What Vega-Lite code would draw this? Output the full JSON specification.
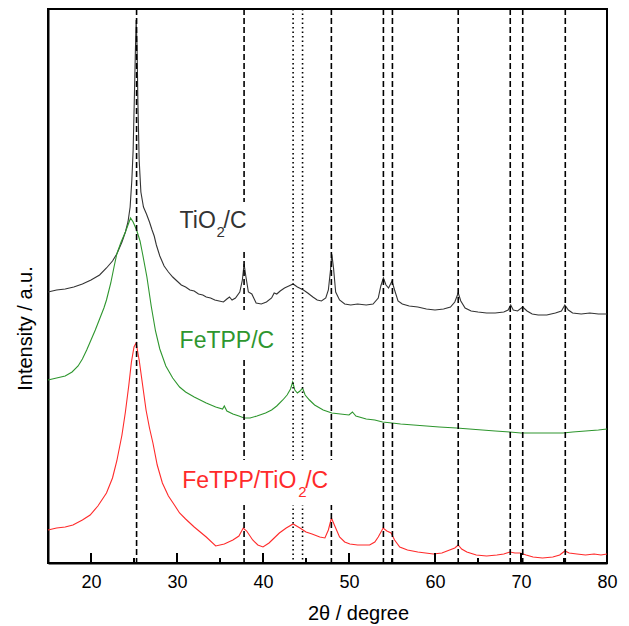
{
  "$schema": "https://vega.github.io/schema/vega-lite/v6.json",
  "width": 559,
  "height": 554,
  "autosize": {"type": "none"},
  "padding": {"left": 48, "top": 9, "right": 22, "bottom": 63},
  "background": "white",
  "config": {
    "view": {"stroke": "black", "strokeWidth": 2},
    "font": "Liberation Sans",
    "axis": {"labelFont": "Liberation Sans", "titleFont": "Liberation Sans", "labelColor": "black", "titleColor": "black", "titleFontWeight": "normal", "domainColor": "black", "domainWidth": 2, "grid": false}
  },
  "datasets": {
    "curves": [
      {"sample": "TiO2/C", "angle": 15, "intensity": 271},
      {"sample": "TiO2/C", "angle": 16, "intensity": 273},
      {"sample": "TiO2/C", "angle": 17, "intensity": 274},
      {"sample": "TiO2/C", "angle": 18, "intensity": 276},
      {"sample": "TiO2/C", "angle": 19, "intensity": 279},
      {"sample": "TiO2/C", "angle": 20, "intensity": 283},
      {"sample": "TiO2/C", "angle": 21, "intensity": 288},
      {"sample": "TiO2/C", "angle": 21.8, "intensity": 295},
      {"sample": "TiO2/C", "angle": 22.5, "intensity": 302},
      {"sample": "TiO2/C", "angle": 23, "intensity": 309},
      {"sample": "TiO2/C", "angle": 23.6, "intensity": 321},
      {"sample": "TiO2/C", "angle": 24, "intensity": 331},
      {"sample": "TiO2/C", "angle": 24.3, "intensity": 341},
      {"sample": "TiO2/C", "angle": 24.55, "intensity": 356},
      {"sample": "TiO2/C", "angle": 24.75, "intensity": 383},
      {"sample": "TiO2/C", "angle": 24.9, "intensity": 413},
      {"sample": "TiO2/C", "angle": 25.05, "intensity": 468},
      {"sample": "TiO2/C", "angle": 25.15, "intensity": 508},
      {"sample": "TiO2/C", "angle": 25.25, "intensity": 543},
      {"sample": "TiO2/C", "angle": 25.35, "intensity": 518},
      {"sample": "TiO2/C", "angle": 25.45, "intensity": 463},
      {"sample": "TiO2/C", "angle": 25.6, "intensity": 403},
      {"sample": "TiO2/C", "angle": 25.8, "intensity": 371},
      {"sample": "TiO2/C", "angle": 26.1, "intensity": 356},
      {"sample": "TiO2/C", "angle": 26.45, "intensity": 349},
      {"sample": "TiO2/C", "angle": 26.8, "intensity": 341},
      {"sample": "TiO2/C", "angle": 27.1, "intensity": 333},
      {"sample": "TiO2/C", "angle": 27.35, "intensity": 327},
      {"sample": "TiO2/C", "angle": 27.6, "intensity": 318},
      {"sample": "TiO2/C", "angle": 28, "intensity": 307},
      {"sample": "TiO2/C", "angle": 28.5, "intensity": 297},
      {"sample": "TiO2/C", "angle": 29, "intensity": 291},
      {"sample": "TiO2/C", "angle": 29.5, "intensity": 286},
      {"sample": "TiO2/C", "angle": 30, "intensity": 282},
      {"sample": "TiO2/C", "angle": 30.5, "intensity": 278},
      {"sample": "TiO2/C", "angle": 31, "intensity": 276},
      {"sample": "TiO2/C", "angle": 31.5, "intensity": 273},
      {"sample": "TiO2/C", "angle": 32, "intensity": 272},
      {"sample": "TiO2/C", "angle": 32.5, "intensity": 269},
      {"sample": "TiO2/C", "angle": 33, "intensity": 268},
      {"sample": "TiO2/C", "angle": 33.4, "intensity": 266},
      {"sample": "TiO2/C", "angle": 33.9, "intensity": 265},
      {"sample": "TiO2/C", "angle": 34.4, "intensity": 263},
      {"sample": "TiO2/C", "angle": 34.9, "intensity": 262},
      {"sample": "TiO2/C", "angle": 35.4, "intensity": 261},
      {"sample": "TiO2/C", "angle": 35.8, "intensity": 264},
      {"sample": "TiO2/C", "angle": 36.1, "intensity": 266},
      {"sample": "TiO2/C", "angle": 36.4, "intensity": 263},
      {"sample": "TiO2/C", "angle": 36.8, "intensity": 265},
      {"sample": "TiO2/C", "angle": 37.3, "intensity": 271},
      {"sample": "TiO2/C", "angle": 37.6, "intensity": 283},
      {"sample": "TiO2/C", "angle": 37.8, "intensity": 299},
      {"sample": "TiO2/C", "angle": 38, "intensity": 287},
      {"sample": "TiO2/C", "angle": 38.3, "intensity": 271},
      {"sample": "TiO2/C", "angle": 38.7, "intensity": 269},
      {"sample": "TiO2/C", "angle": 39.2, "intensity": 260},
      {"sample": "TiO2/C", "angle": 39.8, "intensity": 259},
      {"sample": "TiO2/C", "angle": 40.4, "intensity": 261},
      {"sample": "TiO2/C", "angle": 41, "intensity": 265},
      {"sample": "TiO2/C", "angle": 41.3, "intensity": 270},
      {"sample": "TiO2/C", "angle": 41.6, "intensity": 269},
      {"sample": "TiO2/C", "angle": 42, "intensity": 272},
      {"sample": "TiO2/C", "angle": 42.5, "intensity": 275},
      {"sample": "TiO2/C", "angle": 43, "intensity": 277},
      {"sample": "TiO2/C", "angle": 43.5, "intensity": 279},
      {"sample": "TiO2/C", "angle": 44, "intensity": 276},
      {"sample": "TiO2/C", "angle": 44.7, "intensity": 273},
      {"sample": "TiO2/C", "angle": 45.2, "intensity": 270},
      {"sample": "TiO2/C", "angle": 45.8, "intensity": 266},
      {"sample": "TiO2/C", "angle": 46.3, "intensity": 263},
      {"sample": "TiO2/C", "angle": 46.8, "intensity": 262},
      {"sample": "TiO2/C", "angle": 47.3, "intensity": 265},
      {"sample": "TiO2/C", "angle": 47.6, "intensity": 273},
      {"sample": "TiO2/C", "angle": 47.85, "intensity": 293},
      {"sample": "TiO2/C", "angle": 48, "intensity": 309},
      {"sample": "TiO2/C", "angle": 48.2, "intensity": 295},
      {"sample": "TiO2/C", "angle": 48.45, "intensity": 271},
      {"sample": "TiO2/C", "angle": 48.9, "intensity": 263},
      {"sample": "TiO2/C", "angle": 49.5, "intensity": 259},
      {"sample": "TiO2/C", "angle": 50.2, "intensity": 258},
      {"sample": "TiO2/C", "angle": 51, "intensity": 259},
      {"sample": "TiO2/C", "angle": 52, "intensity": 258},
      {"sample": "TiO2/C", "angle": 52.8, "intensity": 259},
      {"sample": "TiO2/C", "angle": 53.4, "intensity": 265},
      {"sample": "TiO2/C", "angle": 53.7, "intensity": 277},
      {"sample": "TiO2/C", "angle": 54, "intensity": 285},
      {"sample": "TiO2/C", "angle": 54.3, "intensity": 278},
      {"sample": "TiO2/C", "angle": 54.6, "intensity": 275},
      {"sample": "TiO2/C", "angle": 55, "intensity": 282},
      {"sample": "TiO2/C", "angle": 55.3, "intensity": 273},
      {"sample": "TiO2/C", "angle": 55.7, "intensity": 262},
      {"sample": "TiO2/C", "angle": 56.2, "intensity": 259},
      {"sample": "TiO2/C", "angle": 57, "intensity": 257},
      {"sample": "TiO2/C", "angle": 58, "intensity": 256},
      {"sample": "TiO2/C", "angle": 59, "intensity": 254},
      {"sample": "TiO2/C", "angle": 60, "intensity": 253},
      {"sample": "TiO2/C", "angle": 61, "intensity": 254},
      {"sample": "TiO2/C", "angle": 61.8, "intensity": 256},
      {"sample": "TiO2/C", "angle": 62.3, "intensity": 261},
      {"sample": "TiO2/C", "angle": 62.7, "intensity": 270},
      {"sample": "TiO2/C", "angle": 63, "intensity": 262},
      {"sample": "TiO2/C", "angle": 63.5, "intensity": 255},
      {"sample": "TiO2/C", "angle": 64.2, "intensity": 252},
      {"sample": "TiO2/C", "angle": 65, "intensity": 251},
      {"sample": "TiO2/C", "angle": 66, "intensity": 250},
      {"sample": "TiO2/C", "angle": 67, "intensity": 250},
      {"sample": "TiO2/C", "angle": 68, "intensity": 251},
      {"sample": "TiO2/C", "angle": 68.5, "intensity": 253},
      {"sample": "TiO2/C", "angle": 68.8, "intensity": 258},
      {"sample": "TiO2/C", "angle": 69.1, "intensity": 253},
      {"sample": "TiO2/C", "angle": 69.6, "intensity": 252},
      {"sample": "TiO2/C", "angle": 70.2, "intensity": 256},
      {"sample": "TiO2/C", "angle": 70.7, "intensity": 252},
      {"sample": "TiO2/C", "angle": 71.3, "intensity": 249},
      {"sample": "TiO2/C", "angle": 72, "intensity": 248},
      {"sample": "TiO2/C", "angle": 73, "intensity": 248},
      {"sample": "TiO2/C", "angle": 74, "intensity": 250},
      {"sample": "TiO2/C", "angle": 74.7, "intensity": 252},
      {"sample": "TiO2/C", "angle": 75.1, "intensity": 258},
      {"sample": "TiO2/C", "angle": 75.5, "intensity": 253},
      {"sample": "TiO2/C", "angle": 76, "intensity": 250},
      {"sample": "TiO2/C", "angle": 77, "intensity": 249},
      {"sample": "TiO2/C", "angle": 78, "intensity": 250},
      {"sample": "TiO2/C", "angle": 79, "intensity": 249},
      {"sample": "TiO2/C", "angle": 80, "intensity": 249},

      {"sample": "FeTPP/C", "angle": 15, "intensity": 183},
      {"sample": "FeTPP/C", "angle": 16, "intensity": 185},
      {"sample": "FeTPP/C", "angle": 17, "intensity": 187},
      {"sample": "FeTPP/C", "angle": 17.8, "intensity": 191},
      {"sample": "FeTPP/C", "angle": 18.5, "intensity": 197},
      {"sample": "FeTPP/C", "angle": 19, "intensity": 204},
      {"sample": "FeTPP/C", "angle": 19.5, "intensity": 213},
      {"sample": "FeTPP/C", "angle": 20, "intensity": 223},
      {"sample": "FeTPP/C", "angle": 20.5, "intensity": 233},
      {"sample": "FeTPP/C", "angle": 21, "intensity": 244},
      {"sample": "FeTPP/C", "angle": 21.5, "intensity": 255},
      {"sample": "FeTPP/C", "angle": 21.8, "intensity": 263},
      {"sample": "FeTPP/C", "angle": 22.3, "intensity": 280},
      {"sample": "FeTPP/C", "angle": 22.7, "intensity": 297},
      {"sample": "FeTPP/C", "angle": 23, "intensity": 309},
      {"sample": "FeTPP/C", "angle": 23.5, "intensity": 321},
      {"sample": "FeTPP/C", "angle": 24, "intensity": 331},
      {"sample": "FeTPP/C", "angle": 24.3, "intensity": 338},
      {"sample": "FeTPP/C", "angle": 24.6, "intensity": 345},
      {"sample": "FeTPP/C", "angle": 24.9, "intensity": 341},
      {"sample": "FeTPP/C", "angle": 25.3, "intensity": 333},
      {"sample": "FeTPP/C", "angle": 25.7, "intensity": 322},
      {"sample": "FeTPP/C", "angle": 26, "intensity": 309},
      {"sample": "FeTPP/C", "angle": 26.5, "intensity": 286},
      {"sample": "FeTPP/C", "angle": 27, "intensity": 257},
      {"sample": "FeTPP/C", "angle": 27.5, "intensity": 232},
      {"sample": "FeTPP/C", "angle": 28, "intensity": 214},
      {"sample": "FeTPP/C", "angle": 28.7, "intensity": 197},
      {"sample": "FeTPP/C", "angle": 29.5, "intensity": 185},
      {"sample": "FeTPP/C", "angle": 30.3, "intensity": 176},
      {"sample": "FeTPP/C", "angle": 31, "intensity": 171},
      {"sample": "FeTPP/C", "angle": 32, "intensity": 166},
      {"sample": "FeTPP/C", "angle": 33.4, "intensity": 160},
      {"sample": "FeTPP/C", "angle": 34.5, "intensity": 156},
      {"sample": "FeTPP/C", "angle": 35.3, "intensity": 154},
      {"sample": "FeTPP/C", "angle": 35.5, "intensity": 157},
      {"sample": "FeTPP/C", "angle": 35.8, "intensity": 152},
      {"sample": "FeTPP/C", "angle": 36.5, "intensity": 149},
      {"sample": "FeTPP/C", "angle": 37.2, "intensity": 147},
      {"sample": "FeTPP/C", "angle": 37.8, "intensity": 145},
      {"sample": "FeTPP/C", "angle": 38.5, "intensity": 145},
      {"sample": "FeTPP/C", "angle": 39.3, "intensity": 147},
      {"sample": "FeTPP/C", "angle": 40.3, "intensity": 150},
      {"sample": "FeTPP/C", "angle": 41, "intensity": 153},
      {"sample": "FeTPP/C", "angle": 41.6, "intensity": 157},
      {"sample": "FeTPP/C", "angle": 42.3, "intensity": 163},
      {"sample": "FeTPP/C", "angle": 42.8, "intensity": 168},
      {"sample": "FeTPP/C", "angle": 43.2, "intensity": 174},
      {"sample": "FeTPP/C", "angle": 43.45, "intensity": 181},
      {"sample": "FeTPP/C", "angle": 43.7, "intensity": 173},
      {"sample": "FeTPP/C", "angle": 44, "intensity": 170},
      {"sample": "FeTPP/C", "angle": 44.3, "intensity": 172},
      {"sample": "FeTPP/C", "angle": 44.6, "intensity": 175},
      {"sample": "FeTPP/C", "angle": 44.9, "intensity": 168},
      {"sample": "FeTPP/C", "angle": 45.4, "intensity": 163},
      {"sample": "FeTPP/C", "angle": 46, "intensity": 158},
      {"sample": "FeTPP/C", "angle": 47, "intensity": 153},
      {"sample": "FeTPP/C", "angle": 48, "intensity": 150},
      {"sample": "FeTPP/C", "angle": 49, "intensity": 149},
      {"sample": "FeTPP/C", "angle": 50, "intensity": 148},
      {"sample": "FeTPP/C", "angle": 50.4, "intensity": 151},
      {"sample": "FeTPP/C", "angle": 50.8, "intensity": 147},
      {"sample": "FeTPP/C", "angle": 52, "intensity": 144},
      {"sample": "FeTPP/C", "angle": 53, "intensity": 143},
      {"sample": "FeTPP/C", "angle": 53.9, "intensity": 141},
      {"sample": "FeTPP/C", "angle": 55, "intensity": 140},
      {"sample": "FeTPP/C", "angle": 56, "intensity": 139},
      {"sample": "FeTPP/C", "angle": 57.5, "intensity": 138},
      {"sample": "FeTPP/C", "angle": 59, "intensity": 137},
      {"sample": "FeTPP/C", "angle": 60.5, "intensity": 136},
      {"sample": "FeTPP/C", "angle": 62.5, "intensity": 135},
      {"sample": "FeTPP/C", "angle": 64, "intensity": 134},
      {"sample": "FeTPP/C", "angle": 65.5, "intensity": 133},
      {"sample": "FeTPP/C", "angle": 67, "intensity": 132},
      {"sample": "FeTPP/C", "angle": 68.7, "intensity": 131},
      {"sample": "FeTPP/C", "angle": 70, "intensity": 130},
      {"sample": "FeTPP/C", "angle": 71.5, "intensity": 130},
      {"sample": "FeTPP/C", "angle": 73, "intensity": 130},
      {"sample": "FeTPP/C", "angle": 74.9, "intensity": 130},
      {"sample": "FeTPP/C", "angle": 76, "intensity": 131},
      {"sample": "FeTPP/C", "angle": 77.5, "intensity": 132},
      {"sample": "FeTPP/C", "angle": 79, "intensity": 133},
      {"sample": "FeTPP/C", "angle": 80, "intensity": 134},

      {"sample": "FeTPP/TiO2/C", "angle": 15, "intensity": 33},
      {"sample": "FeTPP/TiO2/C", "angle": 16, "intensity": 35},
      {"sample": "FeTPP/TiO2/C", "angle": 17, "intensity": 36},
      {"sample": "FeTPP/TiO2/C", "angle": 17.9, "intensity": 38},
      {"sample": "FeTPP/TiO2/C", "angle": 19, "intensity": 43},
      {"sample": "FeTPP/TiO2/C", "angle": 19.9, "intensity": 48},
      {"sample": "FeTPP/TiO2/C", "angle": 20.8, "intensity": 57},
      {"sample": "FeTPP/TiO2/C", "angle": 21.8, "intensity": 70},
      {"sample": "FeTPP/TiO2/C", "angle": 22.5, "intensity": 85},
      {"sample": "FeTPP/TiO2/C", "angle": 23, "intensity": 102},
      {"sample": "FeTPP/TiO2/C", "angle": 23.6, "intensity": 128},
      {"sample": "FeTPP/TiO2/C", "angle": 24, "intensity": 151},
      {"sample": "FeTPP/TiO2/C", "angle": 24.4, "intensity": 178},
      {"sample": "FeTPP/TiO2/C", "angle": 24.7, "intensity": 201},
      {"sample": "FeTPP/TiO2/C", "angle": 25, "intensity": 216},
      {"sample": "FeTPP/TiO2/C", "angle": 25.25, "intensity": 220},
      {"sample": "FeTPP/TiO2/C", "angle": 25.6, "intensity": 203},
      {"sample": "FeTPP/TiO2/C", "angle": 26, "intensity": 178},
      {"sample": "FeTPP/TiO2/C", "angle": 26.4, "intensity": 153},
      {"sample": "FeTPP/TiO2/C", "angle": 26.8, "intensity": 135},
      {"sample": "FeTPP/TiO2/C", "angle": 27.2, "intensity": 120},
      {"sample": "FeTPP/TiO2/C", "angle": 27.7, "intensity": 98},
      {"sample": "FeTPP/TiO2/C", "angle": 28.3, "intensity": 80},
      {"sample": "FeTPP/TiO2/C", "angle": 29, "intensity": 67},
      {"sample": "FeTPP/TiO2/C", "angle": 29.7, "intensity": 58},
      {"sample": "FeTPP/TiO2/C", "angle": 30.3, "intensity": 50},
      {"sample": "FeTPP/TiO2/C", "angle": 31, "intensity": 44},
      {"sample": "FeTPP/TiO2/C", "angle": 32, "intensity": 36},
      {"sample": "FeTPP/TiO2/C", "angle": 33.4, "intensity": 26},
      {"sample": "FeTPP/TiO2/C", "angle": 34.5, "intensity": 17},
      {"sample": "FeTPP/TiO2/C", "angle": 35.5, "intensity": 19},
      {"sample": "FeTPP/TiO2/C", "angle": 36.5, "intensity": 23},
      {"sample": "FeTPP/TiO2/C", "angle": 37.2, "intensity": 27},
      {"sample": "FeTPP/TiO2/C", "angle": 37.7, "intensity": 35},
      {"sample": "FeTPP/TiO2/C", "angle": 38.1, "intensity": 32},
      {"sample": "FeTPP/TiO2/C", "angle": 38.8, "intensity": 23},
      {"sample": "FeTPP/TiO2/C", "angle": 39.4, "intensity": 18},
      {"sample": "FeTPP/TiO2/C", "angle": 40, "intensity": 16},
      {"sample": "FeTPP/TiO2/C", "angle": 40.7, "intensity": 20},
      {"sample": "FeTPP/TiO2/C", "angle": 41.3, "intensity": 25},
      {"sample": "FeTPP/TiO2/C", "angle": 41.9, "intensity": 30},
      {"sample": "FeTPP/TiO2/C", "angle": 42.7, "intensity": 35},
      {"sample": "FeTPP/TiO2/C", "angle": 43.5, "intensity": 39},
      {"sample": "FeTPP/TiO2/C", "angle": 44.3, "intensity": 35},
      {"sample": "FeTPP/TiO2/C", "angle": 45, "intensity": 31},
      {"sample": "FeTPP/TiO2/C", "angle": 45.7, "intensity": 29},
      {"sample": "FeTPP/TiO2/C", "angle": 46.6, "intensity": 26},
      {"sample": "FeTPP/TiO2/C", "angle": 47.2, "intensity": 25},
      {"sample": "FeTPP/TiO2/C", "angle": 47.6, "intensity": 33},
      {"sample": "FeTPP/TiO2/C", "angle": 47.96, "intensity": 45},
      {"sample": "FeTPP/TiO2/C", "angle": 48.3, "intensity": 38},
      {"sample": "FeTPP/TiO2/C", "angle": 48.9, "intensity": 26},
      {"sample": "FeTPP/TiO2/C", "angle": 49.5, "intensity": 21},
      {"sample": "FeTPP/TiO2/C", "angle": 50.1, "intensity": 19},
      {"sample": "FeTPP/TiO2/C", "angle": 51, "intensity": 18},
      {"sample": "FeTPP/TiO2/C", "angle": 52.4, "intensity": 18},
      {"sample": "FeTPP/TiO2/C", "angle": 53, "intensity": 21},
      {"sample": "FeTPP/TiO2/C", "angle": 53.4, "intensity": 26},
      {"sample": "FeTPP/TiO2/C", "angle": 53.97, "intensity": 35},
      {"sample": "FeTPP/TiO2/C", "angle": 54.4, "intensity": 32},
      {"sample": "FeTPP/TiO2/C", "angle": 54.9, "intensity": 30},
      {"sample": "FeTPP/TiO2/C", "angle": 55.3, "intensity": 23},
      {"sample": "FeTPP/TiO2/C", "angle": 55.9, "intensity": 16},
      {"sample": "FeTPP/TiO2/C", "angle": 56.8, "intensity": 13},
      {"sample": "FeTPP/TiO2/C", "angle": 58, "intensity": 11},
      {"sample": "FeTPP/TiO2/C", "angle": 59.8, "intensity": 9},
      {"sample": "FeTPP/TiO2/C", "angle": 60.8, "intensity": 10},
      {"sample": "FeTPP/TiO2/C", "angle": 61.7, "intensity": 13},
      {"sample": "FeTPP/TiO2/C", "angle": 62.3, "intensity": 15},
      {"sample": "FeTPP/TiO2/C", "angle": 62.7, "intensity": 18},
      {"sample": "FeTPP/TiO2/C", "angle": 63.1, "intensity": 14},
      {"sample": "FeTPP/TiO2/C", "angle": 63.7, "intensity": 11},
      {"sample": "FeTPP/TiO2/C", "angle": 64.8, "intensity": 8},
      {"sample": "FeTPP/TiO2/C", "angle": 66, "intensity": 7},
      {"sample": "FeTPP/TiO2/C", "angle": 67.2, "intensity": 8},
      {"sample": "FeTPP/TiO2/C", "angle": 68, "intensity": 9},
      {"sample": "FeTPP/TiO2/C", "angle": 68.7, "intensity": 11},
      {"sample": "FeTPP/TiO2/C", "angle": 69.3, "intensity": 10},
      {"sample": "FeTPP/TiO2/C", "angle": 69.9, "intensity": 10},
      {"sample": "FeTPP/TiO2/C", "angle": 70.6, "intensity": 8},
      {"sample": "FeTPP/TiO2/C", "angle": 71.4, "intensity": 6},
      {"sample": "FeTPP/TiO2/C", "angle": 72.5, "intensity": 5},
      {"sample": "FeTPP/TiO2/C", "angle": 73.7, "intensity": 6},
      {"sample": "FeTPP/TiO2/C", "angle": 74.5, "intensity": 8},
      {"sample": "FeTPP/TiO2/C", "angle": 75.1, "intensity": 12},
      {"sample": "FeTPP/TiO2/C", "angle": 75.6, "intensity": 10},
      {"sample": "FeTPP/TiO2/C", "angle": 76.5, "intensity": 9},
      {"sample": "FeTPP/TiO2/C", "angle": 77.5, "intensity": 8},
      {"sample": "FeTPP/TiO2/C", "angle": 78.5, "intensity": 9},
      {"sample": "FeTPP/TiO2/C", "angle": 79.3, "intensity": 8},
      {"sample": "FeTPP/TiO2/C", "angle": 80, "intensity": 9}
    ],
    "dashed": [
      {"angle": 25.3}, {"angle": 37.8}, {"angle": 47.95}, {"angle": 54.0}, {"angle": 55.05},
      {"angle": 62.7}, {"angle": 68.75}, {"angle": 70.2}, {"angle": 75.15}
    ],
    "dotted": [
      {"angle": 43.5}, {"angle": 44.6}
    ],
    "majorTicks": [
      {"angle": 20}, {"angle": 30}, {"angle": 40}, {"angle": 50}, {"angle": 60}, {"angle": 70}
    ],
    "minorTicks": [
      {"angle": 25}, {"angle": 35}, {"angle": 45}, {"angle": 55}, {"angle": 65}, {"angle": 75}
    ],
    "labels": [
      {"sample": "TiO2/C", "head": "TiO", "angle": 30.3, "intensity": 335},
      {"sample": "FeTPP/C", "head": "FeTPP/C", "angle": 30.3, "intensity": 215},
      {"sample": "FeTPP/TiO2/C", "head": "FeTPP/TiO", "angle": 30.6, "intensity": 75}
    ]
  },
  "layer": [
    {
      "data": {"name": "curves"},
      "mark": {"type": "line", "strokeWidth": 1.1},
      "encoding": {
        "x": {
          "field": "angle", "type": "quantitative",
          "scale": {"domain": [15, 80], "nice": false, "zero": false},
          "axis": {
            "title": "2θ / degree",
            "values": [20, 30, 40, 50, 60, 70, 80],
            "labelFontSize": 18, "labelPadding": 10, "labelFlush": false,
            "ticks": false,
            "titleFontSize": 20, "titleX": 310, "titleY": 56, "titleBaseline": "alphabetic", "titleAlign": "center"
          }
        },
        "y": {
          "field": "intensity", "type": "quantitative",
          "scale": {"domain": [0, 554], "nice": false, "zero": false},
          "axis": {"title": "Intensity / a.u.", "labels": false, "ticks": false, "titleFontSize": 20, "titleY": 319, "titlePadding": 13}
        },
        "color": {
          "field": "sample", "type": "nominal",
          "scale": {"domain": ["TiO2/C", "FeTPP/C", "FeTPP/TiO2/C"], "range": ["#333333", "#2e962e", "#ff2a2a"]},
          "legend": null
        }
      }
    },
    {
      "data": {"name": "majorTicks"},
      "mark": {"type": "tick", "orient": "vertical", "color": "black", "thickness": 2, "size": 20, "clip": true, "opacity": 1},
      "encoding": {
        "x": {"field": "angle", "type": "quantitative"},
        "y": {"datum": 0, "type": "quantitative"}
      }
    },
    {
      "data": {"name": "minorTicks"},
      "mark": {"type": "tick", "orient": "vertical", "color": "black", "thickness": 2, "size": 10, "clip": true, "opacity": 1},
      "encoding": {
        "x": {"field": "angle", "type": "quantitative"},
        "y": {"datum": 0, "type": "quantitative"}
      }
    },
    {
      "data": {"name": "dashed"},
      "mark": {"type": "rule", "color": "black", "strokeWidth": 1.6, "strokeDash": [6, 3]},
      "encoding": {"x": {"field": "angle", "type": "quantitative"}}
    },
    {
      "data": {"name": "dotted"},
      "mark": {"type": "rule", "color": "black", "strokeWidth": 1.6, "strokeDash": [1.5, 3]},
      "encoding": {"x": {"field": "angle", "type": "quantitative"}}
    },
    {
      "data": {"name": "labels"},
      "mark": {"type": "point", "filled": true, "fill": "white", "strokeWidth": 0, "opacity": 1, "size": 10000},
      "encoding": {
        "x": {"field": "angle", "type": "quantitative"},
        "y": {"field": "intensity", "type": "quantitative"},
        "shape": {
          "field": "sample", "type": "nominal", "legend": null,
          "scale": {
            "domain": ["TiO2/C", "FeTPP/C", "FeTPP/TiO2/C"],
            "range": ["M-0.06,-0.52L1.44,-0.52L1.44,0.44L-0.06,0.44Z", "M-0.06,-0.76L2.0,-0.76L2.0,0.24L-0.06,0.24Z", "M-0.06,-0.56L3.1,-0.56L3.1,0.34L-0.06,0.34Z"]
          }
        }
      }
    },
    {
      "data": {"name": "labels"},
      "mark": {"type": "text", "align": "left", "baseline": "alphabetic", "fontSize": 23, "font": "Liberation Sans"},
      "encoding": {
        "x": {"field": "angle", "type": "quantitative"},
        "y": {"field": "intensity", "type": "quantitative"},
        "text": {"field": "head"},
        "color": {"field": "sample", "type": "nominal", "legend": null}
      }
    },
    {
      "data": {"name": "labels"},
      "transform": [{"filter": "datum.sample === 'TiO2/C'"}],
      "layer": [
        {"mark": {"type": "text", "align": "left", "baseline": "alphabetic", "fontSize": 15, "font": "Liberation Sans", "text": "2", "dx": 37, "dy": 9}},
        {"mark": {"type": "text", "align": "left", "baseline": "alphabetic", "fontSize": 23, "font": "Liberation Sans", "text": "/C", "dx": 44}}
      ],
      "encoding": {
        "x": {"field": "angle", "type": "quantitative"},
        "y": {"field": "intensity", "type": "quantitative"},
        "color": {"field": "sample", "type": "nominal", "legend": null}
      }
    },
    {
      "data": {"name": "labels"},
      "transform": [{"filter": "datum.sample === 'FeTPP/TiO2/C'"}],
      "layer": [
        {"mark": {"type": "text", "align": "left", "baseline": "alphabetic", "fontSize": 15, "font": "Liberation Sans", "text": "2", "dx": 116, "dy": 9}},
        {"mark": {"type": "text", "align": "left", "baseline": "alphabetic", "fontSize": 23, "font": "Liberation Sans", "text": "/C", "dx": 123}}
      ],
      "encoding": {
        "x": {"field": "angle", "type": "quantitative"},
        "y": {"field": "intensity", "type": "quantitative"},
        "color": {"field": "sample", "type": "nominal", "legend": null}
      }
    }
  ]
}
